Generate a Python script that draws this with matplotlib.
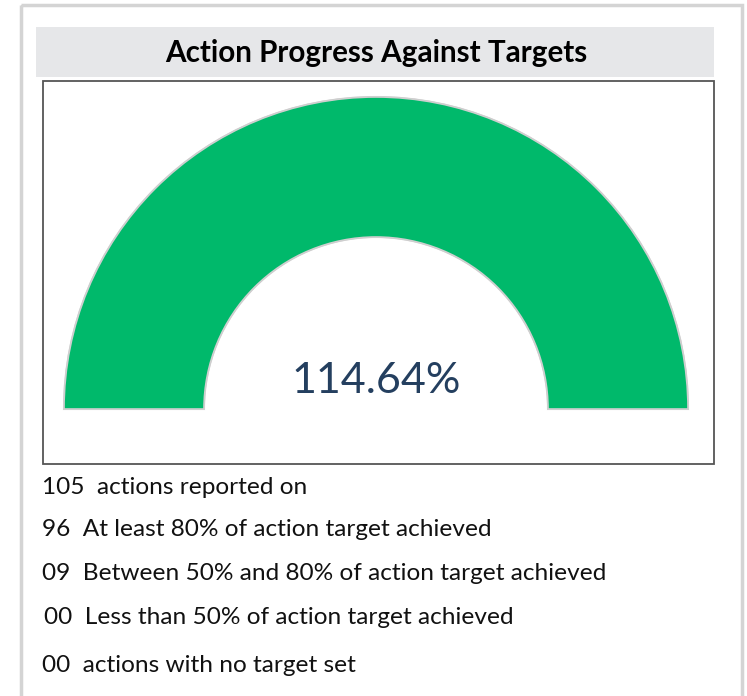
import matplotlib
matplotlib.use("Agg")
import matplotlib.pyplot as plt
from matplotlib.patches import Wedge, Rectangle

title = "Action Progress Against Targets"
gauge_value = 114.64
gauge_max = 100.0
counts = [105, 96, 9, 0, 0]
labels = ["actions reported on",
          "At least 80% of action target achieved",
          "Between 50% and 80% of action target achieved",
          "Less than 50% of action target achieved",
          "actions with no target set"]

W, H = 747, 696
fig = plt.figure(figsize=(W / 100, H / 100), dpi=100)
ax = fig.add_axes([0, 0, 1, 1])
ax.set_xlim(0, W)
ax.set_ylim(H, 0)
ax.axis("off")

FONT = "Lato"

# outer light border
ax.add_patch(Rectangle((20.5, 4.5), 721.5, 700, fill=False, edgecolor="#d4d4d4", linewidth=2.5))

# title band
ax.add_patch(Rectangle((36, 27), 678, 50, facecolor="#e6e7e9", edgecolor="none"))
ax.text(376, 53, title, ha="center", va="center", fontsize=21.3, fontweight="bold",
        family=FONT, color="#000000")

# gauge box
ax.add_patch(Rectangle((43, 81), 671, 383, facecolor="white", edgecolor="#555555", linewidth=1.3))

# gauge axes placed over the box, in its own data coordinates
gx0, gy0, gx1, gy1 = 43, 81, 714, 464
gax = fig.add_axes([gx0 / W, 1 - gy1 / H, (gx1 - gx0) / W, (gy1 - gy0) / H])
gax.set_xlim(0, gx1 - gx0)
gax.set_ylim(0, gy1 - gy0)
gax.axis("off")
cx, cy = 376 - gx0, gy1 - 409
r_out, r_in = 312, 172
frac = min(gauge_value, gauge_max) / gauge_max
# background track (light) then filled value
gax.add_patch(Wedge((cx, cy), r_out, 0, 180, width=r_out - r_in,
                    facecolor="#e8e8e8", edgecolor="#d0d0d0", linewidth=1.5))
gax.add_patch(Wedge((cx, cy), r_out, 180 - 180 * frac, 180, width=r_out - r_in,
                    facecolor="#00b96b", edgecolor="#cfcfcf", linewidth=1.2))
gax.text(cx, gy1 - 381, f"{gauge_value:.2f}%", ha="center", va="center",
         fontsize=31, family=FONT, color="#243f5f")

# summary lines
ys = [487, 530, 574, 618, 665]
xs = [42, 42, 42, 44, 42]
for c, lab, x, y in zip(counts, labels, xs, ys):
    ax.text(x, y, f"{c:02d}  {lab}", ha="left", va="center", fontsize=17.6,
            family=FONT, color="#111111")

fig.savefig("out.png", dpi=100, facecolor="white")
